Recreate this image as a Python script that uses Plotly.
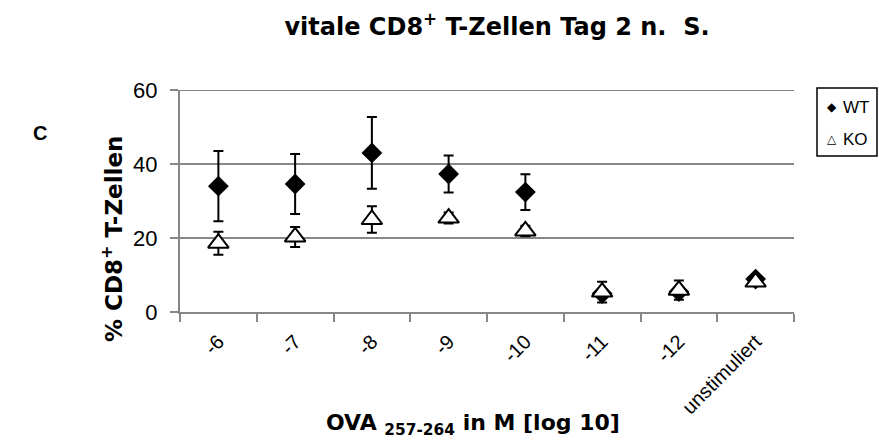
import plotly.graph_objects as go

categories = ["-6", "-7", "-8", "-9", "-10", "-11", "-12", "unstimuliert"]
wt_mean = [34.0, 34.6, 43.0, 37.3, 32.4, 5.0, 5.5, 8.9]
wt_err = [9.5, 8.1, 9.7, 5.0, 4.8, 1.0, 1.0, 0.8]
ko_mean = [18.6, 20.3, 25.0, 25.4, 21.9, 5.4, 5.9, 8.1]
ko_err = [3.1, 2.7, 3.6, 1.5, 1.4, 2.8, 2.6, 1.0]

y_ticks = [0, 20, 40, 60]
series_names = ["WT", "KO"]
legend_glyphs = ["\u25C6", "\u25B3"]

FONT = "Liberation Sans, Arial, sans-serif"
BOLD = "DejaVu Sans, Liberation Sans, Arial, sans-serif"
GRID = "#878787"

W, H = 879, 441
L, R, T, B = 180, 85, 90, 129
PW, PH = W - L - R, H - T - B


def px_x(x):
    return (x - L) / PW


def px_y(y):
    return (H - B - y) / PH


fig = go.Figure()

fig.add_trace(go.Scatter(
    x=categories, y=wt_mean, mode="markers", name=series_names[0], showlegend=False,
    marker=dict(symbol="diamond", size=16, color="black", line=dict(width=0)),
    error_y=dict(type="data", array=wt_err, visible=True, color="black",
                 thickness=2, width=5),
))
fig.add_trace(go.Scatter(
    x=categories, y=ko_mean, mode="markers", name=series_names[1], showlegend=False,
    marker=dict(symbol="triangle-up", size=18, color="white",
                line=dict(width=2, color="black")),
    error_y=dict(type="data", array=ko_err, visible=True, color="black",
                 thickness=2, width=5),
))

fig.update_layout(
    width=W, height=H,
    margin=dict(l=L, r=R, t=T, b=B),
    paper_bgcolor="white", plot_bgcolor="white",
    font=dict(family=FONT, color="black"),
    title=dict(text="<b>vitale CD8<sup>+</sup> T-Zellen Tag 2 n.  S.</b>",
               x=497 / W, xanchor="center", y=1 - 27 / H, yanchor="middle",
               font=dict(size=24, family=BOLD, color="black")),
    showlegend=False,
)

fig.update_xaxes(
    type="category", categoryorder="array", categoryarray=categories,
    range=[-0.5, 7.5], showgrid=False, zeroline=False,
    showline=True, linecolor=GRID, linewidth=2,
    ticks="outside", tickson="boundaries", ticklen=8, tickwidth=2, tickcolor=GRID,
    tickangle=-45, ticklabelstandoff=8,
    tickfont=dict(size=20, family=FONT, color="black"),
)
fig.update_yaxes(
    range=[0, 60], tickvals=y_ticks, showgrid=True, gridcolor=GRID, gridwidth=2,
    zeroline=False, showline=True, linecolor=GRID, linewidth=2,
    ticks="outside", ticklen=8, tickwidth=2, tickcolor=GRID,
    ticklabelstandoff=8,
    tickfont=dict(size=22, family=FONT, color="black"),
)

# top gridline at the axis maximum
fig.add_shape(type="line", xref="paper", yref="y", x0=0, x1=1,
              y0=y_ticks[-1], y1=y_ticks[-1], line=dict(color=GRID, width=2))

fig.add_annotation(
    text="<b>% CD8<sup>+</sup> T-Zellen</b>", textangle=-90,
    xref="paper", yref="paper", x=px_x(112), y=px_y(239),
    xanchor="center", yanchor="middle",
    showarrow=False, font=dict(size=23, family=BOLD, color="black"),
)
fig.add_annotation(
    text="<b>OVA <sub>257-264</sub> in M [log 10]</b>",
    xref="paper", yref="paper", x=px_x(473), y=px_y(424),
    xanchor="center", yanchor="middle",
    showarrow=False, font=dict(size=22, family=BOLD, color="black"),
)
fig.add_annotation(
    text="<b>C</b>", xref="paper", yref="paper", x=px_x(40), y=px_y(133),
    xanchor="center", yanchor="middle", showarrow=False,
    font=dict(size=20, family=FONT, color="black"),
)

# legend box with keys
fig.add_shape(type="rect", xref="paper", yref="paper",
              x0=px_x(817), x1=px_x(877), y0=px_y(156), y1=px_y(88),
              line=dict(color="black", width=1.5), fillcolor="white", layer="above")
for name, glyph, yc in zip(series_names, legend_glyphs, [107, 139]):
    fig.add_annotation(
        text=glyph, xref="paper", yref="paper", x=px_x(832), y=px_y(yc),
        xanchor="center", yanchor="middle", showarrow=False,
        font=dict(size=12, family="DejaVu Sans", color="black"),
    )
    fig.add_annotation(
        text=name, xref="paper", yref="paper", x=px_x(841), y=px_y(yc),
        xanchor="left", yanchor="middle", showarrow=False,
        font=dict(size=17, family=FONT, color="black"),
    )

fig.write_html("out.html")
